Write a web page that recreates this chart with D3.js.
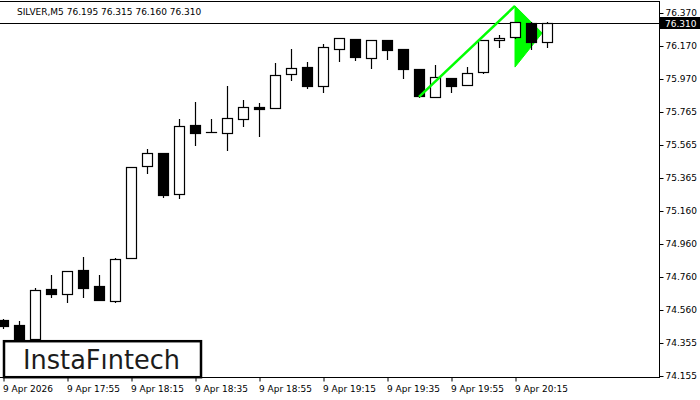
<!DOCTYPE html>
<html><head><meta charset="utf-8">
<script src="https://cdn.jsdelivr.net/npm/d3@7"></script>
<style>body{margin:0;background:#fff}svg{display:block}text{font-family:"DejaVu Sans",sans-serif}</style>
</head><body><svg id="c" width="700" height="400"></svg>
<script>
const symbol = "SILVER,M5";
const lastOHLC = [76.195, 76.315, 76.160, 76.310];
const opens  = [74.497,74.464,74.381,74.686,74.654,74.802,74.704,74.615,74.873,75.435,75.516,75.267,75.687,75.645,75.636,75.721,75.798,75.792,75.996,76.040,75.926,76.152,76.211,76.097,76.203,76.150,76.028,75.859,75.972,75.929,76.008,76.203,76.222,76.307,76.195];
const highs  = [74.503,74.492,74.692,74.771,74.796,74.883,74.771,74.872,75.430,75.540,75.516,75.723,75.827,75.723,75.925,75.839,75.821,76.067,76.150,76.071,76.181,76.218,76.211,76.205,76.205,76.150,76.028,76.053,75.972,76.040,76.205,76.236,76.315,76.315,76.315];
const lows   = [74.448,74.362,74.369,74.639,74.608,74.639,74.616,74.608,74.872,75.396,75.249,75.243,75.565,75.642,75.534,75.682,75.621,75.792,75.961,75.912,75.890,76.079,76.085,76.036,76.091,75.975,75.860,75.859,75.890,75.929,76.006,76.161,76.220,76.150,76.160];
const closes = [74.460,74.375,74.680,74.657,74.796,74.694,74.621,74.867,75.428,75.514,75.261,75.679,75.640,75.643,75.727,75.795,75.786,75.992,76.033,75.926,76.163,76.216,76.103,76.203,76.146,76.030,75.865,75.978,75.926,76.002,76.203,76.216,76.313,76.195,76.310];
const priceTickLabels = ["76.370","76.170","75.970","75.765","75.565","75.365","75.160","74.960","74.760","74.560","74.355","74.155"];
const timeTickIndex = [0,4,8,12,16,20,24,28,32];
const timeTickLabels = ["9 Apr 2026","9 Apr 17:55","9 Apr 18:15","9 Apr 18:35","9 Apr 18:55","9 Apr 19:15","9 Apr 19:35","9 Apr 19:55","9 Apr 20:15"];
const poleIdx = [26, 32], polePrice = [75.858, 76.413];
const flagIdx = [32, 33.7, 32], flagPrice = [76.413, 76.248, 76.040];
const currentPrice = 76.310;
const logoText = "InstaF\u0131ntech";

const svg = d3.select("#c");
const right = 659, bottom = 378;
const x = d3.scaleLinear().domain([0, 34]).range([3, 547]);
const yTop = +priceTickLabels[0], yBot = +priceTickLabels[priceTickLabels.length-1];
const y = d3.scaleLinear().domain([yBot, yTop]).range([376, 13]);
const tickVals = d3.range(priceTickLabels.length).map(i => yTop - i*(yTop-yBot)/(priceTickLabels.length-1));

// frame
svg.append("line").attr("x1",0).attr("x2",right).attr("y1",1.5).attr("y2",1.5).attr("stroke","#000");

// price axis
const ya = d3.axisRight(y).tickValues(tickVals).tickFormat((d,i)=>priceTickLabels[i]).tickSize(4).tickPadding(2);
const yg = svg.append("g").attr("transform",`translate(${right+0.5},0)`).call(ya);
yg.select(".domain").attr("d",`M0,1V${bottom}`).attr("stroke","#000");
yg.selectAll(".tick line").attr("stroke","#000");
yg.selectAll(".tick text").attr("font-family","DejaVu Sans").attr("font-size",9).attr("fill","#000").attr("dy","0.33em");

// time axis
const xa = d3.axisBottom(x).tickValues(timeTickIndex).tickFormat((d,i)=>timeTickLabels[i]).tickSize(4).tickPadding(4);
const xg = svg.append("g").attr("transform",`translate(0.5,${bottom-0.5})`).call(xa);
xg.select(".domain").attr("d",`M-1,0H${right}`).attr("stroke","#000");
xg.selectAll(".tick line").attr("stroke","#000");
xg.selectAll(".tick text").attr("font-family","DejaVu Sans").attr("font-size",9).attr("fill","#000").attr("text-anchor","start").attr("x",-1);

// current price line
svg.append("line").attr("x1",0).attr("x2",right).attr("y1",Math.round(y(currentPrice))+0.5).attr("y2",Math.round(y(currentPrice))+0.5).attr("stroke","#000");

const green = "#00ff00";
// pennant flag (behind candles)
svg.append("path").attr("d",d3.line()(flagIdx.map((v,k)=>[x(v),y(flagPrice[k])]))+"Z")
  .attr("fill",green).attr("stroke",green).attr("stroke-width",1);

// candles
const data = opens.map((o,i)=>({i,o,h:highs[i],l:lows[i],c:closes[i]}));
const cg = svg.append("g");
cg.selectAll("line.w").data(data).join("line").attr("class","w")
  .attr("x1",d=>Math.round(x(d.i))+0.5).attr("x2",d=>Math.round(x(d.i))+0.5)
  .attr("y1",d=>Math.round(y(d.h))).attr("y2",d=>Math.round(y(d.l))+1)
  .attr("stroke","#000").attr("stroke-width",1.2);
cg.selectAll("rect.b").data(data).join("rect").attr("class","b")
  .attr("x",d=>Math.round(x(d.i))-4.5).attr("width",10)
  .attr("y",d=>Math.round(y(Math.max(d.o,d.c)))+0.5)
  .attr("height",d=>Math.max(0.01,Math.round(y(Math.min(d.o,d.c)))-Math.round(y(Math.max(d.o,d.c)))))
  .attr("fill",d=>d.c<d.o?"#000":"#fff").attr("stroke","#000").attr("stroke-width",1.2);

// pennant pole (over candles)
svg.append("path").attr("d",d3.line()(poleIdx.map((v,k)=>[x(v),y(polePrice[k])])))
  .attr("stroke",green).attr("stroke-width",2.5).attr("fill","none");

// current price label
const cy = Math.round(y(currentPrice));
svg.append("rect").attr("x",660).attr("y",cy-6).attr("width",40).attr("height",12).attr("fill","#000");
svg.append("text").attr("x",665).attr("y",cy+3.5).attr("font-size",9).attr("fill","#fff").text(currentPrice.toFixed(3));

// header
svg.append("text").attr("x",17).attr("y",14.5).attr("font-size",9).attr("fill","#000")
  .text(symbol + "  " + lastOHLC.map(v=>v.toFixed(3)).join(" "));

// logo
svg.append("rect").attr("x",4).attr("y",341.2).attr("width",197).attr("height",36).attr("fill","#fff").attr("stroke","#000").attr("stroke-width",2.5);
svg.append("text").attr("x",23).attr("y",369).attr("font-family","Lato").attr("font-weight",500).attr("font-size",27)
  .attr("fill","#1c1c1c").attr("textLength",157).attr("lengthAdjust","spacingAndGlyphs").text(logoText);
</script></body></html>
